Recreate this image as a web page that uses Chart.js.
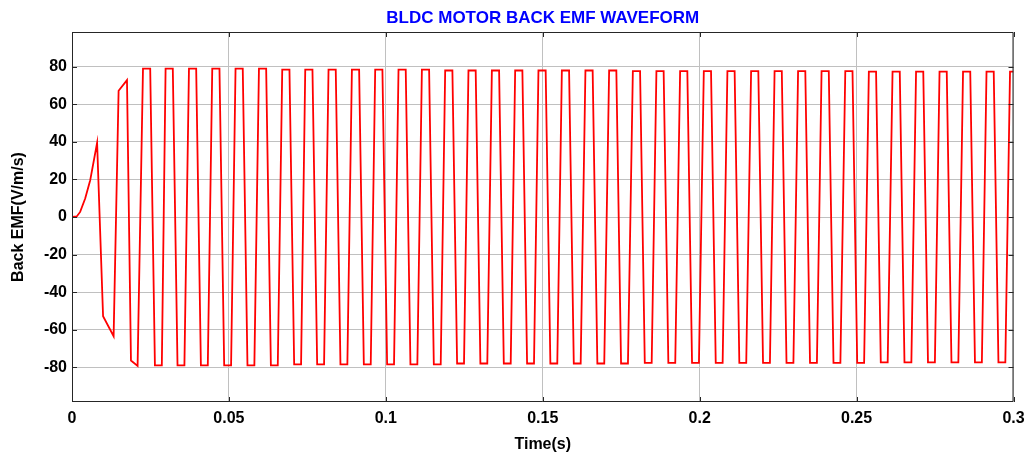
<!DOCTYPE html>
<html>
<head>
<meta charset="utf-8">
<title>BLDC Motor Back EMF</title>
<script src="https://cdn.jsdelivr.net/npm/chart.js@4.4.1/dist/chart.umd.min.js"></script>
<style>
    html, body { margin: 0; padding: 0; background: #fff; overflow: hidden; }
    canvas { display: block; }
</style>
</head>
<body>
<canvas id="chart-emf" width="1029" height="454"></canvas>
<script>
// Time axis (s) and back EMF values.
// First line is the start-up transient, then one line per period:
// top start, top end, bottom start, bottom end.
const timeS = [
    0, 0.0015, 0.0026, 0.0042, 0.0058, 0.0080, 0.0099, 0.01326, 0.01485, 0.01752, 0.01879, 0.02090,
    0.02262, 0.02492, 0.02642, 0.02862,
    0.02982, 0.03212, 0.03362, 0.03582,
    0.03727, 0.03957, 0.04107, 0.04327,
    0.04469, 0.04699, 0.04849, 0.05069,
    0.05211, 0.05441, 0.05591, 0.05811,
    0.05957, 0.06187, 0.06337, 0.06557,
    0.06699, 0.06929, 0.07079, 0.07299,
    0.07432, 0.07662, 0.07812, 0.08032,
    0.08174, 0.08404, 0.08554, 0.08774,
    0.08919, 0.09149, 0.09299, 0.09519,
    0.09661, 0.09891, 0.10041, 0.10261,
    0.10404, 0.10634, 0.10784, 0.11004,
    0.11149, 0.11379, 0.11529, 0.11749,
    0.11891, 0.12121, 0.12271, 0.12491,
    0.12633, 0.12863, 0.13013, 0.13233,
    0.13379, 0.13609, 0.13759, 0.13979,
    0.14121, 0.14351, 0.14501, 0.14721,
    0.14863, 0.15093, 0.15243, 0.15463,
    0.15609, 0.15839, 0.15989, 0.16209,
    0.16360, 0.16590, 0.16740, 0.16960,
    0.17115, 0.17345, 0.17495, 0.17715,
    0.17871, 0.18101, 0.18251, 0.18471,
    0.18622, 0.18852, 0.19002, 0.19222,
    0.19377, 0.19607, 0.19757, 0.19977,
    0.20132, 0.20362, 0.20512, 0.20732,
    0.20884, 0.21114, 0.21264, 0.21484,
    0.21639, 0.21869, 0.22019, 0.22239,
    0.22387, 0.22617, 0.22767, 0.22987,
    0.23136, 0.23366, 0.23516, 0.23736,
    0.23884, 0.24114, 0.24264, 0.24484,
    0.24640, 0.24870, 0.25020, 0.25240,
    0.25391, 0.25621, 0.25771, 0.25991,
    0.26146, 0.26376, 0.26526, 0.26746,
    0.26895, 0.27125, 0.27275, 0.27495,
    0.27643, 0.27873, 0.28023, 0.28243,
    0.28392, 0.28622, 0.28772, 0.28992,
    0.29140, 0.29370, 0.29520, 0.29740,
    0.29889, 0.30000
];

const backEmf = [
    0, 0.3, 2.7, 9.8, 19.6, 39.5, -52.8, -63.5, 67.2, 72.9, -76.4, -79.3,
    79, 79, -79, -79,
    79, 79, -79, -79,
    79, 79, -79, -79,
    79, 79, -79, -79,
    79, 79, -79, -79,
    79, 79, -79, -79,
    78.5, 78.5, -78.5, -78.5,
    78.5, 78.5, -78.5, -78.5,
    78.5, 78.5, -78.5, -78.5,
    78.5, 78.5, -78.5, -78.5,
    78.5, 78.5, -78.5, -78.5,
    78.5, 78.5, -78.5, -78.5,
    78.5, 78.5, -78.5, -78.5,
    78, 78, -78, -78,
    78, 78, -78, -78,
    78, 78, -78, -78,
    78, 78, -78, -78,
    78, 78, -78, -78,
    78, 78, -78, -78,
    78, 78, -78, -78,
    78, 78, -78, -78,
    77.7, 77.7, -77.7, -77.7,
    77.7, 77.7, -77.7, -77.7,
    77.7, 77.7, -77.7, -77.7,
    77.7, 77.7, -77.7, -77.7,
    77.7, 77.7, -77.7, -77.7,
    77.7, 77.7, -77.7, -77.7,
    77.7, 77.7, -77.7, -77.7,
    77.7, 77.7, -77.7, -77.7,
    77.7, 77.7, -77.7, -77.7,
    77.7, 77.7, -77.7, -77.7,
    77.4, 77.4, -77.4, -77.4,
    77.4, 77.4, -77.4, -77.4,
    77.4, 77.4, -77.4, -77.4,
    77.4, 77.4, -77.4, -77.4,
    77.4, 77.4, -77.4, -77.4,
    77.4, 77.4, -77.4, -77.4,
    77.4, 77.4
];

const xTickValues = [0, 0.05, 0.1, 0.15, 0.2, 0.25, 0.3];
const xTickLabels = ['0', '0.05', '0.1', '0.15', '0.2', '0.25', '0.3'];
const yTickValues = [-80, -60, -40, -20, 0, 20, 40, 60, 80];
const yTickLabels = ['-80', '-60', '-40', '-20', '0', '20', '40', '60', '80'];

const FONT = "'Liberation Sans', Arial, sans-serif";
const AXIS_DARK = '#262626';

// MATLAB style box: frame on all four sides plus short inward tick marks
const boxPlugin = {
    id: 'matlabBox',
    afterDraw(chart) {
        const { ctx, chartArea: a, scales } = chart;
        const len = 5;
        ctx.save();
        ctx.strokeStyle = AXIS_DARK;
        ctx.lineWidth = 1;
        ctx.beginPath();
        ctx.rect(a.left + 0.5, a.top + 0.5, a.right - a.left - 1, a.bottom - a.top - 1);
        xTickValues.forEach(v => {
            const px = Math.round(scales.x.getPixelForValue(v)) + 0.5;
            ctx.moveTo(px, a.bottom); ctx.lineTo(px, a.bottom - len);
            ctx.moveTo(px, a.top); ctx.lineTo(px, a.top + len);
        });
        yTickValues.forEach(v => {
            const py = Math.round(scales.y.getPixelForValue(v)) + 0.5;
            ctx.moveTo(a.left, py); ctx.lineTo(a.left + len, py);
            ctx.moveTo(a.right, py); ctx.lineTo(a.right - len, py);
        });
        ctx.stroke();
        ctx.restore();
    }
};

function initChart() {
    const ctx = document.getElementById('chart-emf').getContext('2d');
    const points = timeS.map((t, i) => ({ x: t, y: backEmf[i] }));

    new Chart(ctx, {
        type: 'line',
        data: {
            datasets: [{
                data: points,
                borderColor: '#ff0000',
                borderWidth: 1.8,
                pointRadius: 0,
                tension: 0,
                fill: false
            }]
        },
        options: {
            responsive: false,
            animation: false,
            devicePixelRatio: 1,
            layout: { padding: { left: 0, right: 15.5, top: 0, bottom: 0 } },
            plugins: {
                legend: { display: false },
                tooltip: { enabled: false },
                title: {
                    display: true,
                    fullSize: false,
                    text: 'BLDC MOTOR BACK EMF WAVEFORM',
                    color: '#0000ff',
                    font: { family: FONT, size: 17, weight: 'bold' },
                    padding: { top: 8, bottom: 3.6 }
                }
            },
            scales: {
                x: {
                    type: 'linear',
                    min: 0,
                    max: 0.3,
                    afterBuildTicks: scale => { scale.ticks = xTickValues.map(v => ({ value: v })); },
                    afterFit: scale => { scale.height = 52; scale.paddingRight = 0; scale.paddingLeft = 0; },
                    grid: { color: '#c0c0c0', lineWidth: 1, drawTicks: false },
                    border: { display: false },
                    ticks: {
                        color: '#000',
                        padding: 7,
                        maxRotation: 0,
                        autoSkip: false,
                        font: { family: FONT, size: 16, weight: 'bold' },
                        callback: (v, i) => xTickLabels[i]
                    },
                    title: {
                        display: true,
                        text: 'Time(s)',
                        color: '#000',
                        font: { family: FONT, size: 16, weight: 'bold' },
                        padding: { top: 0, bottom: 0 }
                    }
                },
                y: {
                    min: -98.5,
                    max: 98.5,
                    afterBuildTicks: scale => { scale.ticks = yTickValues.map(v => ({ value: v })); },
                    afterFit: scale => { scale.width = 72; scale.paddingTop = 0; scale.paddingBottom = 0; },
                    grid: { color: '#c0c0c0', lineWidth: 1, drawTicks: false },
                    border: { display: false },
                    ticks: {
                        color: '#000',
                        padding: 5,
                        autoSkip: false,
                        font: { family: FONT, size: 16, weight: 'bold' },
                        callback: (v, i) => yTickLabels[i]
                    },
                    title: {
                        display: true,
                        text: 'Back EMF(V/m/s)',
                        color: '#000',
                        font: { family: FONT, size: 16, weight: 'bold' },
                        padding: { top: 9, bottom: 0 }
                    }
                }
            }
        },
        plugins: [boxPlugin]
    });
}

initChart();
</script>
</body>
</html>
